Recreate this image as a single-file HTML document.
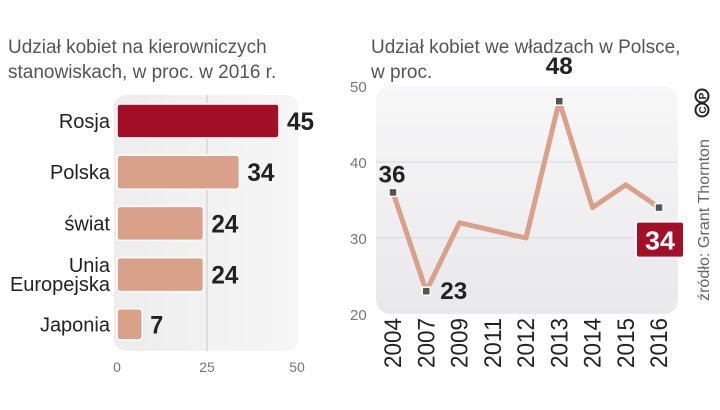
<!DOCTYPE html>
<html><head><meta charset="utf-8"><style>
body{margin:0;width:720px;height:405px;background:#fff;overflow:hidden;font-family:"Liberation Sans",sans-serif}
svg text{font-family:"Liberation Sans",sans-serif}
</style></head><body>
<svg id="c" width="720" height="405" xmlns="http://www.w3.org/2000/svg">
<defs>
<linearGradient id="pg" x1="0" y1="0" x2="1" y2="0"><stop offset="0" stop-color="#ededee"/><stop offset="1" stop-color="#f6f6f7"/></linearGradient>
<linearGradient id="pg2" x1="0" y1="0" x2="0" y2="1"><stop offset="0" stop-color="#f7f7f8"/><stop offset="1" stop-color="#e9e9eb"/></linearGradient>
</defs>
<text x="8" y="53" font-size="19" fill="#555">Udział kobiet na kierowniczych</text>
<text x="8" y="78" font-size="19" fill="#555">stanowiskach, w proc. w 2016 r.</text>
<text x="371" y="53" font-size="19" fill="#555">Udział kobiet we władzach w Polsce,</text>
<text x="371" y="78" font-size="19" fill="#555">w proc.</text>
<rect x="114" y="95" width="184" height="256" rx="12" fill="url(#pg)"/>
<rect x="376" y="86" width="302" height="228" rx="14" fill="url(#pg2)"/>
<g id="bars"></g>
<g id="line"></g>
<g transform="translate(709,301) rotate(-90)"><text x="0" y="0" font-size="16" fill="#666" textLength="162" lengthAdjust="spacingAndGlyphs">źródło: Grant Thornton</text></g>
<g transform="translate(702,103) rotate(-90)">
<circle cx="-7" cy="0" r="6.5" fill="none" stroke="#222" stroke-width="2"/><text x="-7" y="4" font-size="10" font-weight="bold" text-anchor="middle" fill="#222">C</text>
<circle cx="7" cy="0" r="6.5" fill="none" stroke="#222" stroke-width="2"/><text x="7" y="4" font-size="10" font-weight="bold" text-anchor="middle" fill="#222">P</text>
</g>
</svg>
<script>
const barCats=["Rosja","Polska","świat","Unia\nEuropejska","Japonia"];
const barVals=[45,34,24,24,7];
const barTicks=[0,25,50];
const years=["2004","2007","2009","2011","2012","2013","2014","2015","2016"];
const shares=[36,23,32,31,30,48,34,37,34];
const yTicks=[20,30,40,50];
const NS="http://www.w3.org/2000/svg";
function mk(t,a,p){const e=document.createElementNS(NS,t);for(const k in a)e.setAttribute(k,a[k]);p.appendChild(e);return e;}
const bx=v=>117+v*3.6;
const bg=document.getElementById('bars');
barTicks.forEach(t=>{
 if(t===25){const l=mk('line',{x1:bx(t),x2:bx(t),y1:95,y2:351,stroke:'#c8c8c8','stroke-width':1},bg);
 
 }
 const tx=mk('text',{x:bx(t),y:372,'font-size':14,fill:'#777','text-anchor':'middle'},bg);tx.textContent=t;
 
 
});
barCats.forEach((c,i)=>{
 const y=104+i*51.2,h=i===4?31:34;
 const r=mk('rect',{x:bx(0),y:y,width:bx(barVals[i])-bx(0),height:h,rx:3,fill:i===0?'#a30f26':'#d9a08a',stroke:'#fff','stroke-width':1.5},bg);
 
 
 const v=mk('text',{x:bx(barVals[i])+8,y:y+h/2+9,'font-size':25,'font-weight':'bold',fill:'#222',textLength:barVals[i]>9?27:13,lengthAdjust:'spacingAndGlyphs'},bg);v.textContent=barVals[i];
 
 
 const parts=c.split('\n');
 parts.forEach((p,j)=>{
  const t=mk('text',{x:110,y:y+h/2+7+(j-(parts.length-1)/2)*19,'font-size':20,fill:'#222','text-anchor':'end'},bg);t.textContent=p;
  
  
 });
});
const lg=document.getElementById('line');
const lx=i=>393+i*33.25, ly=v=>314-(v-20)*7.6;
yTicks.forEach(t=>{
 if(t===30||t===40){const l=mk('line',{x1:376,x2:678,y1:ly(t),y2:ly(t),stroke:'#d8d8d8','stroke-width':1},lg);
 
 }
 const tx=mk('text',{x:350,y:ly(t)+6,'font-size':15,fill:'#777'},lg);tx.textContent=t;
 
 
});
const pl=mk('polyline',{points:shares.map((v,i)=>lx(i)+','+ly(v)).join(' '),fill:'none',stroke:'#d9a08a','stroke-width':5,'stroke-linejoin':'round'},lg);


years.forEach((y,i)=>{
 const t=mk('text',{x:0,y:0,'font-size':24,fill:'#222',transform:`translate(${lx(i)+8},368) rotate(-90)`,textLength:50,lengthAdjust:'spacingAndGlyphs'},lg);t.textContent=y;
 
 
});
[0,1,5,8].forEach(i=>{
 const m=mk('rect',{x:lx(i)-4,y:ly(shares[i])-4,width:8,height:8,fill:'#555',stroke:'#fff','stroke-width':1.5},lg);
 
 
});
function lab(i,dx,dy,anchor){
 const t=mk('text',{x:lx(i)+dx,y:ly(shares[i])+dy,'font-size':24,'font-weight':'bold',fill:'#222','text-anchor':anchor,textLength:27,lengthAdjust:'spacingAndGlyphs'},lg);t.textContent=shares[i];
 
 
}
lab(0,-1,-10,'middle');lab(1,14,8,'start');lab(5,0,-27,'middle');
const bxr=mk('rect',{x:lx(8)-23,y:ly(shares[8])+14,width:48,height:36,rx:3,fill:'#a30f26',stroke:'#fff','stroke-width':2},lg);


const bt=mk('text',{x:lx(8)+1,y:ly(shares[8])+42,'font-size':26,'font-weight':'bold',fill:'#fff','text-anchor':'middle',textLength:30,lengthAdjust:'spacingAndGlyphs'},lg);bt.textContent=shares[8];


</script>
</body></html>
